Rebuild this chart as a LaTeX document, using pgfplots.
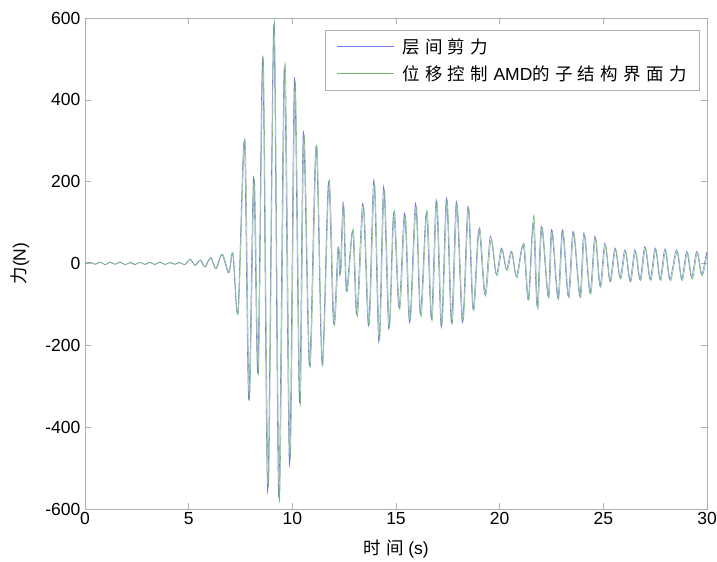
\documentclass[border=0pt]{standalone}
\usepackage{fontspec}
\setmainfont{Liberation Sans}
\newfontfamily\cjk{Noto Sans CJK SC}
\usepackage{pgfplots}
\pgfplotsset{compat=1.18}
\definecolor{lblue}{RGB}{118,118,236}
\definecolor{lgreen}{RGB}{110,188,110}
\definecolor{frame}{RGB}{175,175,175}
\newcommand\hs{\hspace{5.3bp}}
\begin{document}
\begin{tikzpicture}
\useasboundingbox (-85bp,-53bp) rectangle (632bp,509bp);
\begin{axis}[
  at={(0,0)}, anchor=south west,
  scale only axis, width=622bp, height=491bp,
  xmin=0, xmax=30, ymin=-600, ymax=600,
  xtick={0,5,...,30}, ytick={-600,-400,...,600},
  tick align=inside, major tick length=6bp,
  axis line style={frame}, tick style={frame, line width=0.6bp},
  every axis/.append style={line width=0.6bp},
  /pgf/number format/assume math mode=true,
  ticklabel style={font=\fontsize{17.5bp}{21bp}\selectfont, text=black},
  yticklabel style={xshift=-1bp},
  xlabel={\cjk 时\hspace{6bp}间 \rmfamily(s)},
  ylabel={{\cjk 力}(N)},
  label style={font=\fontsize{17.5bp}{21bp}\selectfont},
  xlabel style={at={(axis description cs:0.5,-0.0815)}, anchor=center},
  ylabel style={at={(axis description cs:-0.1045,0.5)}, anchor=center},
  legend style={at={(axis description cs:1,1)}, anchor=north east, xshift=-7bp, yshift=-12bp,
    draw=frame, line width=0.6bp, font=\fontsize{17.5bp}{21bp}\selectfont,
    inner xsep=11bp, inner ysep=6bp, row sep=7bp, nodes={inner sep=2bp},
    /tikz/every odd column/.append style={column sep=6bp}},
  legend cell align=left,
  legend image code/.code={\draw[#1] (0bp,0bp) -- (57bp,0bp);},
]
\addplot[lblue, line width=0.55bp, smooth, tension=0.5] table[row sep=\\] {
x y\\
0 0\\ 0.24 3\\ 0.48 -2\\ 0.72 4\\ 0.96 -3\\ 1.2 3\\ 1.44 -2\\ 1.68 4\\ 1.92 -3\\ 2.16 2\\ 2.4 -3\\ 2.64 3\\ 2.88 -2\\ 3.12 3\\ 3.36 -3\\ 3.6 4\\ 3.84 -2\\ 4.08 2\\ 4.32 -2\\ 4.56 3\\ 4.8 -3\\
5.06 10\\ 5.3 -4\\ 5.55 8\\ 5.77 -8\\ 6.05 14\\ 6.3 -12\\ 6.6 22\\ 6.92 -23\\ 7.12 25\\ 7.37 -116\\ 7.68 298\\ 7.89 -332\\ 8.13 213\\ 8.33 -266\\ 8.57 500\\ 8.81 -560\\ 9.1 580\\ 9.34 -570\\ 9.61 480\\ 9.86 -494\\ 10.1 454\\ 10.34 -340\\ 10.53 323\\ 10.82 -250\\ 11.14 286\\ 11.43 -246\\ 11.74 200\\ 11.98 -145\\ 12.2 40\\ 12.3 -30\\ 12.45 150\\ 12.6 -67\\ 12.9 79\\ 13.1 -124\\ 13.4 148\\ 13.67 -153\\ 13.93 205\\ 14.17 -193\\ 14.4 189\\ 14.65 -161\\ 14.88 124\\ 15.14 -108\\ 15.41 124\\ 15.65 -145\\ 15.94 148\\ 16.17 -124\\ 16.46 124\\ 16.7 -136\\ 16.94 156\\ 17.18 -157\\ 17.43 160\\ 17.67 -145\\ 17.91 152\\ 18.2 -145\\ 18.47 140\\ 18.71 -112\\ 18.99 83\\ 19.28 -76\\ 19.55 67\\ 19.83 -27\\ 20.08 38\\ 20.32 -15\\ 20.56 30\\ 20.8 -31\\ 21.13 46\\ 21.37 -88\\ 21.61 100\\ 21.8 -104\\ 22.01 91\\ 22.33 -80\\ 22.5 83\\ 22.8 -84\\ 23.02 83\\ 23.3 -80\\ 23.54 79\\ 23.86 -80\\ 24.06 75\\ 24.35 -72\\ 24.59 67\\ 24.83 -55\\ 25.07 50\\ 25.31 -43\\ 25.56 38\\ 25.8 -35\\ 26.04 34\\ 26.28 -43\\ 26.52 34\\ 26.76 -39\\ 27.0 42\\ 27.25 -39\\ 27.5 38\\ 27.73 -39\\ 27.97 36\\ 28.2 -39\\ 28.53 34\\ 28.77 -39\\ 29.02 30\\ 29.25 -35\\ 29.5 30\\ 29.73 -27\\ 29.97 25\\ 30 20\\
};
\addlegendentry{\cjk 层\hs 间\hs 剪\hs 力}
\addplot[lgreen, line width=0.55bp, smooth, tension=0.5] table[row sep=\\] {
x y\\
0 1\\ 0.27 3\\ 0.51 -2\\ 0.75 3\\ 0.99 -3\\ 1.23 4\\ 1.47 -2\\ 1.71 3\\ 1.95 -3\\ 2.19 3\\ 2.43 -2\\ 2.67 3\\ 2.91 -3\\ 3.15 3\\ 3.39 -2\\ 3.63 3\\ 3.87 -3\\ 4.11 3\\ 4.35 -2\\ 4.59 2\\ 4.83 -3\\
5.09 11\\ 5.33 -5\\ 5.58 9\\ 5.8 -9\\ 6.08 15\\ 6.33 -13\\ 6.63 23\\ 6.95 -22\\ 7.15 24\\ 7.4 -120\\ 7.72 305\\ 7.93 -335\\ 8.17 205\\ 8.37 -270\\ 8.6 505\\ 8.85 -545\\ 9.13 595\\ 9.38 -582\\ 9.65 490\\ 9.9 -480\\ 10.14 445\\ 10.38 -348\\ 10.57 315\\ 10.86 -255\\ 11.18 290\\ 11.46 -250\\ 11.78 205\\ 12.02 -150\\ 12.24 35\\ 12.34 -25\\ 12.49 140\\ 12.64 -70\\ 12.94 85\\ 13.14 -130\\ 13.44 140\\ 13.71 -150\\ 13.97 195\\ 14.21 -185\\ 14.44 180\\ 14.69 -155\\ 14.92 130\\ 15.18 -112\\ 15.45 118\\ 15.69 -140\\ 15.98 140\\ 16.21 -130\\ 16.5 130\\ 16.74 -140\\ 16.98 150\\ 17.22 -150\\ 17.47 155\\ 17.71 -148\\ 17.95 145\\ 18.24 -140\\ 18.51 135\\ 18.75 -115\\ 19.03 88\\ 19.32 -80\\ 19.59 60\\ 19.87 -30\\ 20.12 35\\ 20.36 -18\\ 20.6 28\\ 20.84 -35\\ 21.17 50\\ 21.41 -90\\ 21.65 118\\ 21.84 -112\\ 22.05 88\\ 22.37 -85\\ 22.54 80\\ 22.84 -88\\ 23.06 80\\ 23.34 -84\\ 23.58 75\\ 23.9 -84\\ 24.1 70\\ 24.39 -75\\ 24.63 62\\ 24.87 -58\\ 25.11 45\\ 25.35 -45\\ 25.6 35\\ 25.84 -38\\ 26.08 30\\ 26.32 -45\\ 26.56 30\\ 26.8 -42\\ 27.04 38\\ 27.29 -42\\ 27.54 34\\ 27.77 -42\\ 28.01 32\\ 28.24 -42\\ 28.57 30\\ 28.81 -42\\ 29.06 27\\ 29.29 -38\\ 29.54 27\\ 29.77 -30\\ 30 22\\
};
\addlegendentry{\cjk 位\hs 移\hs 控\hs 制\hs {\rmfamily AMD}的\hs 子\hs 结\hs 构\hs 界\hs 面\hs 力}
\end{axis}
\end{tikzpicture}
\end{document}
